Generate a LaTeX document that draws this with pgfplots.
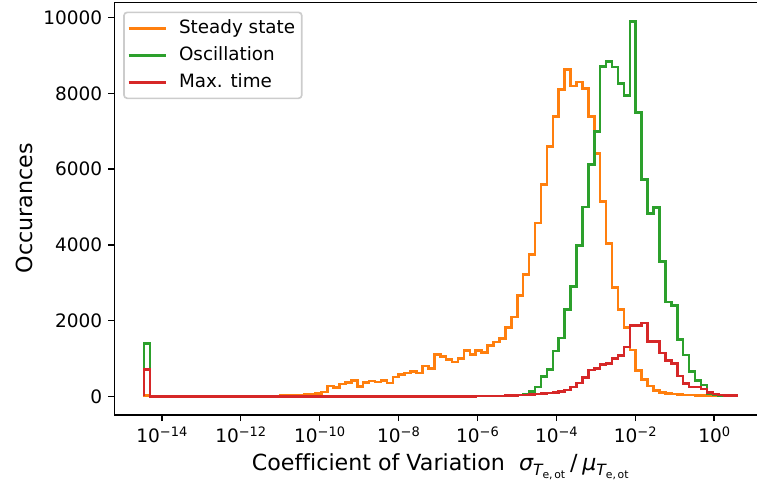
\documentclass[border=0pt]{standalone}
\usepackage{fontspec}
\setmainfont{DejaVu Sans}[Ligatures=NoCommon]
\usepackage{pgfplots}
\pgfplotsset{compat=1.18}
\usepackage{pgfplotstable}
\definecolor{c1}{HTML}{FF7F0E}
\definecolor{c2}{HTML}{2CA02C}
\definecolor{c3}{HTML}{D62728}

% x = log10 of bin left edge; o = Steady state, g = Oscillation, r = Max. time
\pgfplotstableread{
x o g r
-14.454 0 0 0
-14.454 20 1400 700
-14.304 0 0 0
-14.154 0 0 0
-14.003 0 0 0
-13.853 0 0 0
-13.703 0 0 0
-13.553 0 0 0
-13.403 0 0 0
-13.252 0 0 0
-13.102 0 0 0
-12.952 0 0 0
-12.802 0 0 0
-12.652 0 0 0
-12.501 0 0 0
-12.351 0 0 0
-12.201 1 0 0
-12.051 2 0 0
-11.901 2 0 0
-11.750 3 0 0
-11.600 5 0 0
-11.450 8 0 0
-11.300 10 0 0
-11.150 12 0 0
-10.999 15 0 0
-10.849 20 0 0
-10.699 25 0 0
-10.549 30 0 0
-10.399 40 0 0
-10.248 50 0 0
-10.098 70 0 0
-9.948 113 0 0
-9.798 272 0 0
-9.648 229 0 0
-9.497 325 0 0
-9.347 361 0 0
-9.197 422 0 0
-9.047 264 0 0
-8.897 361 0 0
-8.746 405 0 0
-8.596 378 0 0
-8.446 422 0 0
-8.296 352 0 0
-8.146 510 0 0
-7.995 581 0 0
-7.845 616 0 0
-7.695 660 0 0
-7.545 616 0 0
-7.395 801 0 0
-7.244 730 0 0
-7.094 1109 0 0
-6.944 1056 0 0
-6.794 975 0 0
-6.644 906 0 0
-6.493 1000 0 0
-6.343 1214 0 0
-6.193 1109 2 0
-6.043 1214 3 3
-5.893 1153 4 5
-5.742 1346 5 6
-5.592 1434 6 8
-5.442 1522 8 10
-5.292 1813 12 15
-5.142 2094 18 20
-4.991 2666 30 28
-4.841 3221 53 38
-4.691 3749 120 50
-4.541 4576 246 62
-4.391 5588 528 75
-4.240 6600 700 90
-4.090 7392 1197 105
-3.940 8096 1540 125
-3.790 8633 2288 170
-3.640 8192 2904 246
-3.489 8297 3986 352
-3.339 8121 4998 493
-3.189 7392 6125 690
-3.039 6407 6996 740
-2.889 5150 8712 845
-2.738 4030 8844 860
-2.588 2875 8694 995
-2.438 2290 8255 1082
-2.288 1810 7946 1302
-2.138 1220 9900 1874
-1.987 685 7498 1874
-1.837 440 5720 1936
-1.687 270 4823 1440
-1.537 150 4981 1450
-1.387 100 3555 1140
-1.236 70 2490 950
-1.086 55 2390 870
-0.936 45 1500 540
-0.786 38 1090 330
-0.636 32 650 240
-0.485 27 422 250
-0.335 22 300 190
-0.185 18 65 100
-0.035 15 30 55
0.115 12 15 35
0.265 10 8 22
0.416 8 5 15
0.566 8 5 15
0.566 0 0 0
}\hist

\newcommand{\subT}{\raisebox{-0.45ex}{\fontsize{9.3}{9.5}\selectfont\itshape T\raisebox{-0.4ex}{\fontsize{6.5}{6.8}\selectfont\upshape e,\hspace{0.15em}ot}}}
\newcommand{\tl}[1]{10\raisebox{3.4pt}{\fontsize{7.8}{8}\selectfont #1}}

\begin{document}
\begin{tikzpicture}
\begin{axis}[
  at={(0,0)}, anchor=south west,
  scale only axis, width=391.1pt, height=247.4pt,
  xmin=-15.205, xmax=1.317, ymin=-495, ymax=10395,
  xtick={-14,-12,-10,-8,-6,-4,-2,0},
  xticklabels={\tl{−14},\tl{−12},\tl{−10},\tl{−8},\tl{−6},\tl{−4},\tl{−2},\tl{0}},
  ytick={0,2000,4000,6000,8000,10000},
  scaled y ticks=false,
  tick pos=left,
  tick align=outside, major tick length=3.7pt, minor tick num=0,
  every tick/.style={black, line width=0.85pt},
  axis line style={line width=0.85pt},
  yticklabel style={/pgf/number format/1000 sep={}, /pgf/number format/assume math mode=true},
  tick label style={font=\fontsize{11.1}{13}\selectfont},
  label style={font=\fontsize{13.3}{16}\selectfont},
  xlabel={Coefficient of Variation\hspace{0.64em}{\itshape σ}\subT\hspace{0.22em}{/}\hspace{0.22em}{\itshape μ}\subT},
  ylabel={Occurances},
  xlabel style={at={(axis description cs:0.5,0)}, yshift=-33pt, anchor=base},
  ylabel style={at={(axis description cs:-0.1385,0.502)}, anchor=center},
  legend style={at={(axis description cs:0,1)}, anchor=north west, xshift=5.3pt, yshift=-5.3pt,
    draw=black!20, line width=1pt, rounded corners=2pt, fill=white, fill opacity=0.8, text opacity=1,
    font=\fontsize{11}{13}\selectfont, inner xsep=2pt, inner ysep=2.6pt, row sep=2.2pt,
    nodes={inner xsep=2pt, inner ysep=1.5pt, text height=8.3pt, text depth=2.7pt},
    /tikz/every odd column/.style={column sep=5pt}},
  legend cell align=left,
  legend image code/.code={\draw[#1, line width=1.55pt] (0pt,0pt) -- (22.5pt,0pt);},
  every axis plot/.append style={line width=1.55pt},
]
\addplot[c1, const plot] table[x=x, y=o] {\hist};
\addplot[c2, const plot] table[x=x, y=g] {\hist};
\addplot[c3, const plot] table[x=x, y=r] {\hist};
\legend{Steady state, Oscillation, Max. time}
\end{axis}
\pgfresetboundingbox
\useasboundingbox (-68.58pt,-40.8pt) rectangle (385.62pt,249pt);
\end{tikzpicture}
\end{document}
